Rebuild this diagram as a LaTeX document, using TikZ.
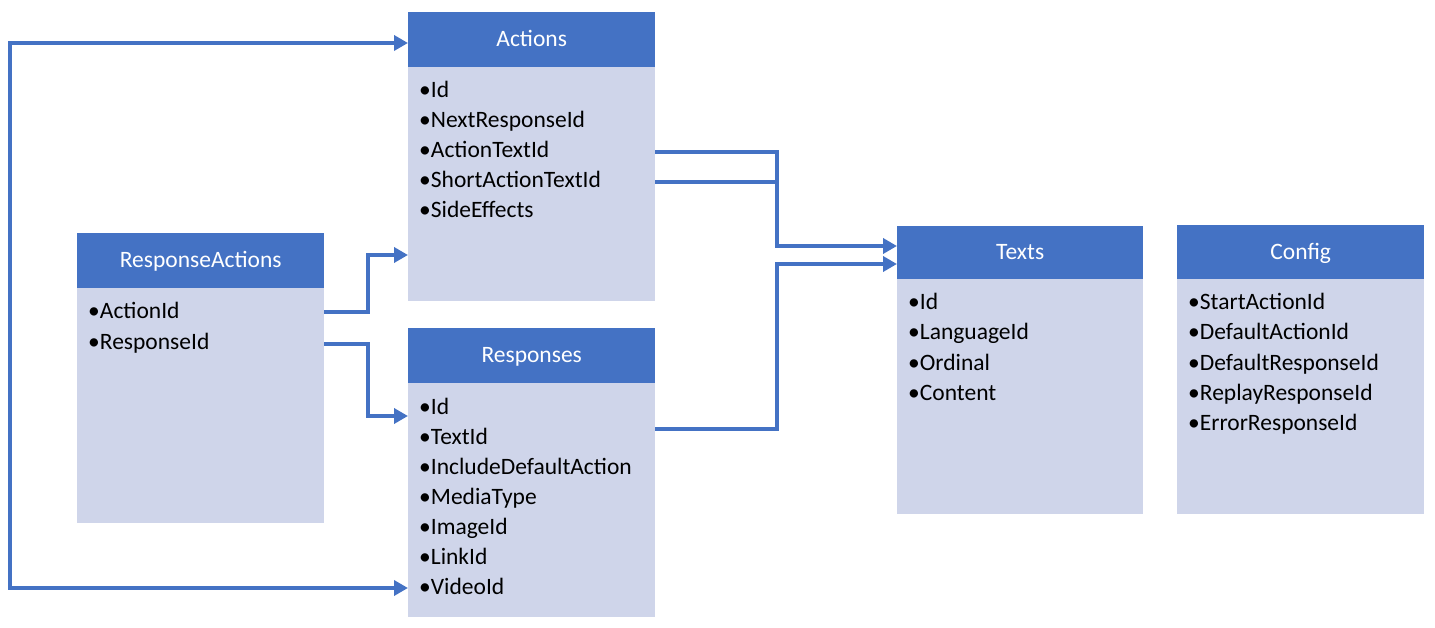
\documentclass[tikz,border=0pt]{standalone}
\usepackage{fontspec}
\setmainfont{Carlito}
\usetikzlibrary{arrows.meta}
\definecolor{hdrblue}{HTML}{4472C4}
\definecolor{bodyblue}{HTML}{CFD5EA}
\tikzset{
  hdr/.style={fill=hdrblue, draw=none, text=white, anchor=north west, minimum width=247pt, minimum height=55pt, inner sep=0pt, text height=17pt, text depth=3pt, font=\fontsize{23.5}{26}\selectfont},
  bodybox/.style={fill=bodyblue, draw=none, anchor=north west, minimum width=247pt, inner sep=0pt},
  item/.style={anchor=west, inner sep=0pt, text height=17pt, text depth=3pt, font=\fontsize{23.5}{26}\selectfont},
  conn/.style={draw=hdrblue, line width=4pt, -{Triangle[length=14pt,width=15pt]}},
  plain/.style={draw=hdrblue, line width=4pt}
}
\begin{document}
\begin{tikzpicture}[x=1pt,y=-1pt]
\useasboundingbox (0,0) rectangle (1435,628);
% Actions
\node[bodybox, minimum height=234pt] (actb) at (408,67) {};
\node[hdr] (acth) at (408,12) {Actions};
\node[item] (a1) at (419,91) {•Id};
\node[item] (a2) at (419,121) {•NextResponseId};
\node[item] (a3) at (419,151) {•ActionTextId};
\node[item] (a4) at (419,181) {•ShortActionTextId};
\node[item] (a5) at (419,211) {•SideEffects};
% ResponseActions
\node[bodybox, minimum height=235pt] (rab) at (77,288) {};
\node[hdr] (rah) at (77,233) {ResponseActions};
\node[item] (ra1) at (88,312) {•ActionId};
\node[item] (ra2) at (88,342) {•ResponseId};
% Responses
\node[bodybox, minimum height=234pt] (rsb) at (408,383) {};
\node[hdr] (rsh) at (408,328) {Responses};
\node[item] (r1) at (419,407) {•Id};
\node[item] (r2) at (419,437) {•TextId};
\node[item] (r3) at (419,467) {•IncludeDefaultAction};
\node[item] (r4) at (419,497) {•MediaType};
\node[item] (r5) at (419,527) {•ImageId};
\node[item] (r6) at (419,557) {•LinkId};
\node[item] (r7) at (419,587) {•VideoId};
% Texts
\node[bodybox, minimum height=235pt, minimum width=246pt] (txb) at (897,279) {};
\node[hdr, minimum width=246pt, minimum height=53pt] (txh) at (897,226) {Texts};
\node[item] (t1) at (908,303) {•Id};
\node[item] (t2) at (908,333) {•LanguageId};
\node[item] (t3) at (908,363) {•Ordinal};
\node[item] (t4) at (908,393) {•Content};
% Config
\node[bodybox, minimum height=235pt] (cfb) at (1177,279) {};
\node[hdr, minimum height=54pt] (cfh) at (1177,225) {Config};
\node[item] (c1) at (1188,303) {•StartActionId};
\node[item] (c2) at (1188,333) {•DefaultActionId};
\node[item] (c3) at (1188,363) {•DefaultResponseId};
\node[item] (c4) at (1188,393) {•ReplayResponseId};
\node[item] (c5) at (1188,423) {•ErrorResponseId};
% connectors
\coordinate (lt) at (10,43);
\coordinate (lb) at (10,588);
\draw[plain] (lt) -- (lb);
\draw[conn] ([xshift=-2pt]lt) -- (acth.west |- lt);
\draw[conn] ([xshift=-2pt]lb) -- (rsb.west |- lb);
\coordinate (j1) at (368,0);
\draw[conn] (rab.east |- ra1) -| (j1 |- 0,255) -- (actb.west |- 0,255);
\draw[conn] (rab.east |- 0,344) -| (j1 |- 0,416) -- (rsb.west |- 0,416);
\coordinate (j2) at (777,0);
\draw[conn] (actb.east |- 0,152) -| (j2 |- 0,246) -- (txh.west |- 0,246);
\draw[plain] (actb.east |- 0,182) -- (j2 |- 0,182);
\draw[conn] (rsb.east |- 0,429) -| (j2 |- 0,264) -- (txh.west |- 0,264);
\end{tikzpicture}
\end{document}
